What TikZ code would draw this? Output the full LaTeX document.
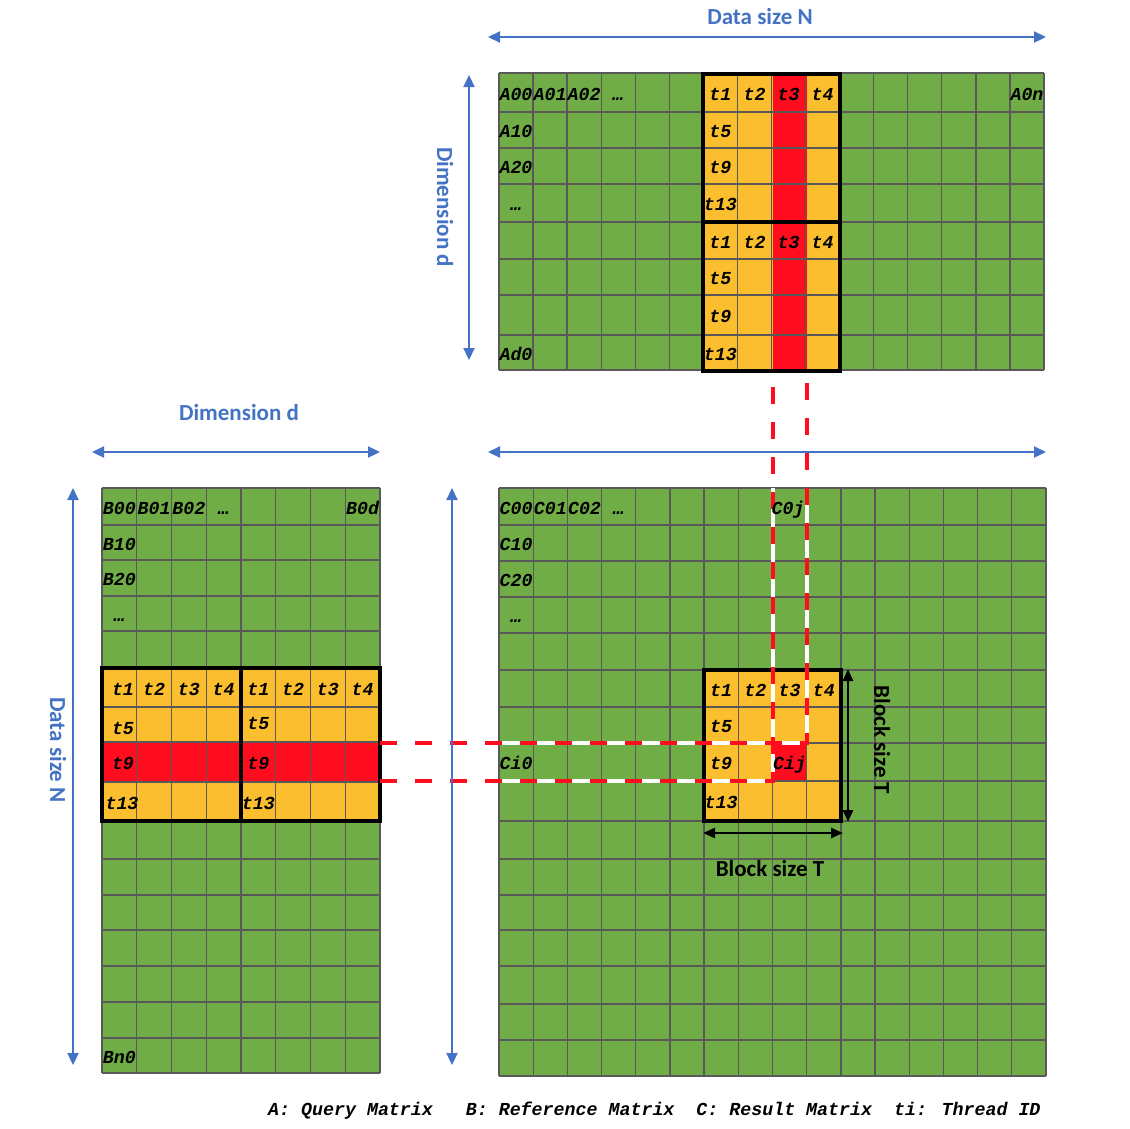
\documentclass[tikz,border=0pt]{standalone}
\usepackage{fontspec}
\usetikzlibrary{arrows.meta}
\newfontfamily\monofnt{Liberation Mono}
\newfontfamily\sansfnt{Carlito}
\definecolor{cgreen}{HTML}{70AD47}
\definecolor{corange}{HTML}{FBBE2E}
\definecolor{cred}{HTML}{FF0D1E}
\definecolor{cblue}{HTML}{4472C4}
\definecolor{cgrid}{HTML}{595959}
\begin{document}
\begin{tikzpicture}[x=1pt,y=-1pt,
  gridline/.style={draw=cgrid,line width=1.3pt},
  blockframe/.style={draw=black,line width=4pt},
  cell/.style={font=\monofnt\bfseries\itshape\fontsize{18.3}{18.3}\selectfont,inner sep=0pt,text height=10.5pt,text depth=0pt,anchor=center,yshift=-2.5pt},
  legendtext/.style={font=\monofnt\bfseries\itshape\fontsize{18.3}{18.3}\selectfont,inner sep=0pt,text height=10.5pt,text depth=0pt},
  dim/.style={font=\sansfnt\bfseries\fontsize{23}{23}\selectfont,text=cblue,inner sep=0pt},
  dimarrow/.style={draw=cblue,line width=2.2pt,{Triangle[length=12pt,width=11pt]}-{Triangle[length=12pt,width=11pt]}},
  blkarrow/.style={draw=black,line width=2.5pt,{Triangle[length=12pt,width=10pt]}-{Triangle[length=12pt,width=10pt]}},
  whiteunder/.style={draw=white,line width=4pt},
  reddash/.style={draw=cred,line width=4pt,dash pattern=on 17pt off 18pt}]
\useasboundingbox (0,0) rectangle (1130,1128);

% ---------------- Matrix A ----------------
\fill[cgreen] (499,73) rectangle (1044,370);
\fill[corange] (703.4,73) rectangle (839.6,370);
\fill[cred] (772.5,73) rectangle (806.6,370);
\foreach \i in {0,...,16} \draw[gridline] ({499+34.0625*\i},73) -- ({499+34.0625*\i},370);
\foreach \y in {73,112,148,184,222,259,295,335,370} \draw[gridline] (499,\y) -- (1044,\y);

% ---------------- Matrix B ----------------
\fill[cgreen] (102,488) rectangle (380,1073);
\fill[corange] (102,668) rectangle (380,821);
\fill[cred] (102,742) rectangle (380,782);
\foreach \i in {0,...,8} \draw[gridline] ({102+34.75*\i},488) -- ({102+34.75*\i},1073);
\foreach \y in {488,525,560,596,631,668,707,742,782,821,859,895,930,966,1002,1038,1073} \draw[gridline] (102,\y) -- (380,\y);

% ---------------- Matrix C ----------------
\fill[cgreen] (499,488) rectangle (1046,1076);
\fill[corange] (704.1,670) rectangle (840.9,821);
\fill[cred] (772.5,743) rectangle (806.7,781);
\foreach \i in {0,...,16} \draw[gridline] ({499+34.1875*\i},488) -- ({499+34.1875*\i},1076);
\foreach \y in {488,525,561,597,633,670,707,743,781,821,859,895,930,966,1004,1040,1076} \draw[gridline] (499,\y) -- (1046,\y);

% ---------------- block frames ----------------
\draw[blockframe] (703.4,74) rectangle (839.6,371);
\draw[blockframe] (703.4,222) -- (839.6,222);
\draw[blockframe] (102,668) rectangle (380,821);
\draw[blockframe] (241,668) -- (241,821);
\draw[blockframe] (704.1,670) rectangle (840.9,821);

% ---------------- dashed connectors ----------------
\coordinate (bRowTop) at (380,743);
\coordinate (bRowBot) at (380,781);
\coordinate (aColL) at (772.5,372);
\coordinate (aColR) at (806.6,372);
\coordinate (cTopL) at (772.5,488);
\coordinate (cTopR) at (806.6,488);
\coordinate (cLeftT) at (499,743);
\coordinate (cLeftB) at (499,781);
\draw[whiteunder] (cLeftT) -| (cTopR);
\draw[whiteunder] (cLeftB) -| (cTopL);
\draw[reddash] (bRowTop) -| (aColR);
\draw[reddash] (bRowBot) -| (aColL);

% ---------------- labels A ----------------
\foreach \n/\x/\y/\t in {
  a00/516/92.5/A00, a01/550.1/92.5/A01, a02/584.2/92.5/A02, a03/618.2/92.5/…,
  a0n/1027/92.5/A0n, a10/516/130/A10, a20/516/166/A20, a30/516/203/…, ad0/516/352.5/Ad0,
  at1/720.4/92.5/t1, at2/754.5/92.5/t2, at3/788.6/92.5/t3, at4/822.6/92.5/t4,
  at5/720.4/130/t5, at9/720.4/166/t9, at13/720.4/203/t13,
  au1/720.4/240.5/t1, au2/754.5/240.5/t2, au3/788.6/240.5/t3, au4/822.6/240.5/t4,
  au5/720.4/277/t5, au9/720.4/315/t9, au13/720.4/352.5/t13}
  \node[cell] (\n) at (\x,\y) {\t};

% ---------------- labels B ----------------
\foreach \n/\x/\y/\t in {
  b00/119.4/506.5/B00, b01/154.1/506.5/B01, b02/188.9/506.5/B02, b03/223.6/506.5/…,
  b0d/362.6/506.5/B0d, b10/119.4/542.5/B10, b20/119.4/578/B20, b30/119.4/613.5/…,
  bn0/119.4/1055.5/Bn0,
  bt1/123/687.5/t1, bt2/154.1/687.5/t2, bt3/188.9/687.5/t3, bt4/223.6/687.5/t4,
  bu1/258.4/687.5/t1, bu2/293.1/687.5/t2, bu3/327.9/687.5/t3, bu4/362.6/687.5/t4,
  bt5/123/727/t5, bu5/258.4/722/t5, bt9/123/762/t9, bu9/258.4/762/t9,
  bt13/122/801.5/t13, bu13/258.4/801.5/t13}
  \node[cell] (\n) at (\x,\y) {\t};

% ---------------- labels C ----------------
\foreach \n/\x/\y/\t in {
  c00/516.1/506.5/C00, c01/550.3/506.5/C01, c02/584.5/506.5/C02, c03/618.7/506.5/…,
  c0j/788/506.5/C0j, c10/516.1/543/C10, c20/516.1/579/C20, c30/516.1/615/…,
  ci0/516.1/762/Ci0, cij/789.6/762/Cij,
  ct1/721.2/688.5/t1, ct2/755.4/688.5/t2, ct3/789.6/688.5/t3, ct4/823.8/688.5/t4,
  ct5/721.2/725/t5, ct9/721.2/762/t9, ct13/721.2/801/t13}
  \node[cell] (\n) at (\x,\y) {\t};

% ---------------- dimension arrows ----------------
\coordinate (topL) at (488,37);   \coordinate (topR) at (1046,37);
\coordinate (aVt) at (469,75);    \coordinate (aVb) at (469,360);
\coordinate (bHl) at (92,452);    \coordinate (bHr) at (380,452);
\coordinate (cHl) at (488,452);   \coordinate (cHr) at (1046,452);
\coordinate (bVt) at (73,488);    \coordinate (bVb) at (73,1065);
\coordinate (cVt) at (452,488);   \coordinate (cVb) at (452,1065);
\coordinate (tVt) at (848,669);   \coordinate (tVb) at (848,822);
\coordinate (tHl) at (703,833);   \coordinate (tHr) at (843,833);
\draw[dimarrow] (topL) -- (topR);
\draw[dimarrow] (aVt) -- (aVb);
\draw[dimarrow] (bHl) -- (bHr);
\draw[dimarrow] (cHl) -- (cHr);
\draw[dimarrow] (bVt) -- (bVb);
\draw[dimarrow] (cVt) -- (cVb);
\draw[blkarrow] (tVt) -- (tVb);
\draw[blkarrow] (tHl) -- (tHr);

\node[dim] (lblN) at (760,17) {Data size N};
\node[dim,rotate=-90] (lblDa) at (445,207) {Dimension d};
\node[dim] (lblDb) at (239,413) {Dimension d};
\node[dim,rotate=-90] (lblNb) at (58,750) {Data size N};
\node[dim,text=black,rotate=-90] (lblT1) at (882,740) {Block size T};
\node[dim,text=black] (lblT2) at (770,869) {Block size T};

\node[legendtext,anchor=west] (legend) at (268,1110) {A: Query Matrix\ \ \ B: Reference Matrix\ \ C: Result Matrix\ \ ti: Thread ID};
\end{tikzpicture}
\end{document}
